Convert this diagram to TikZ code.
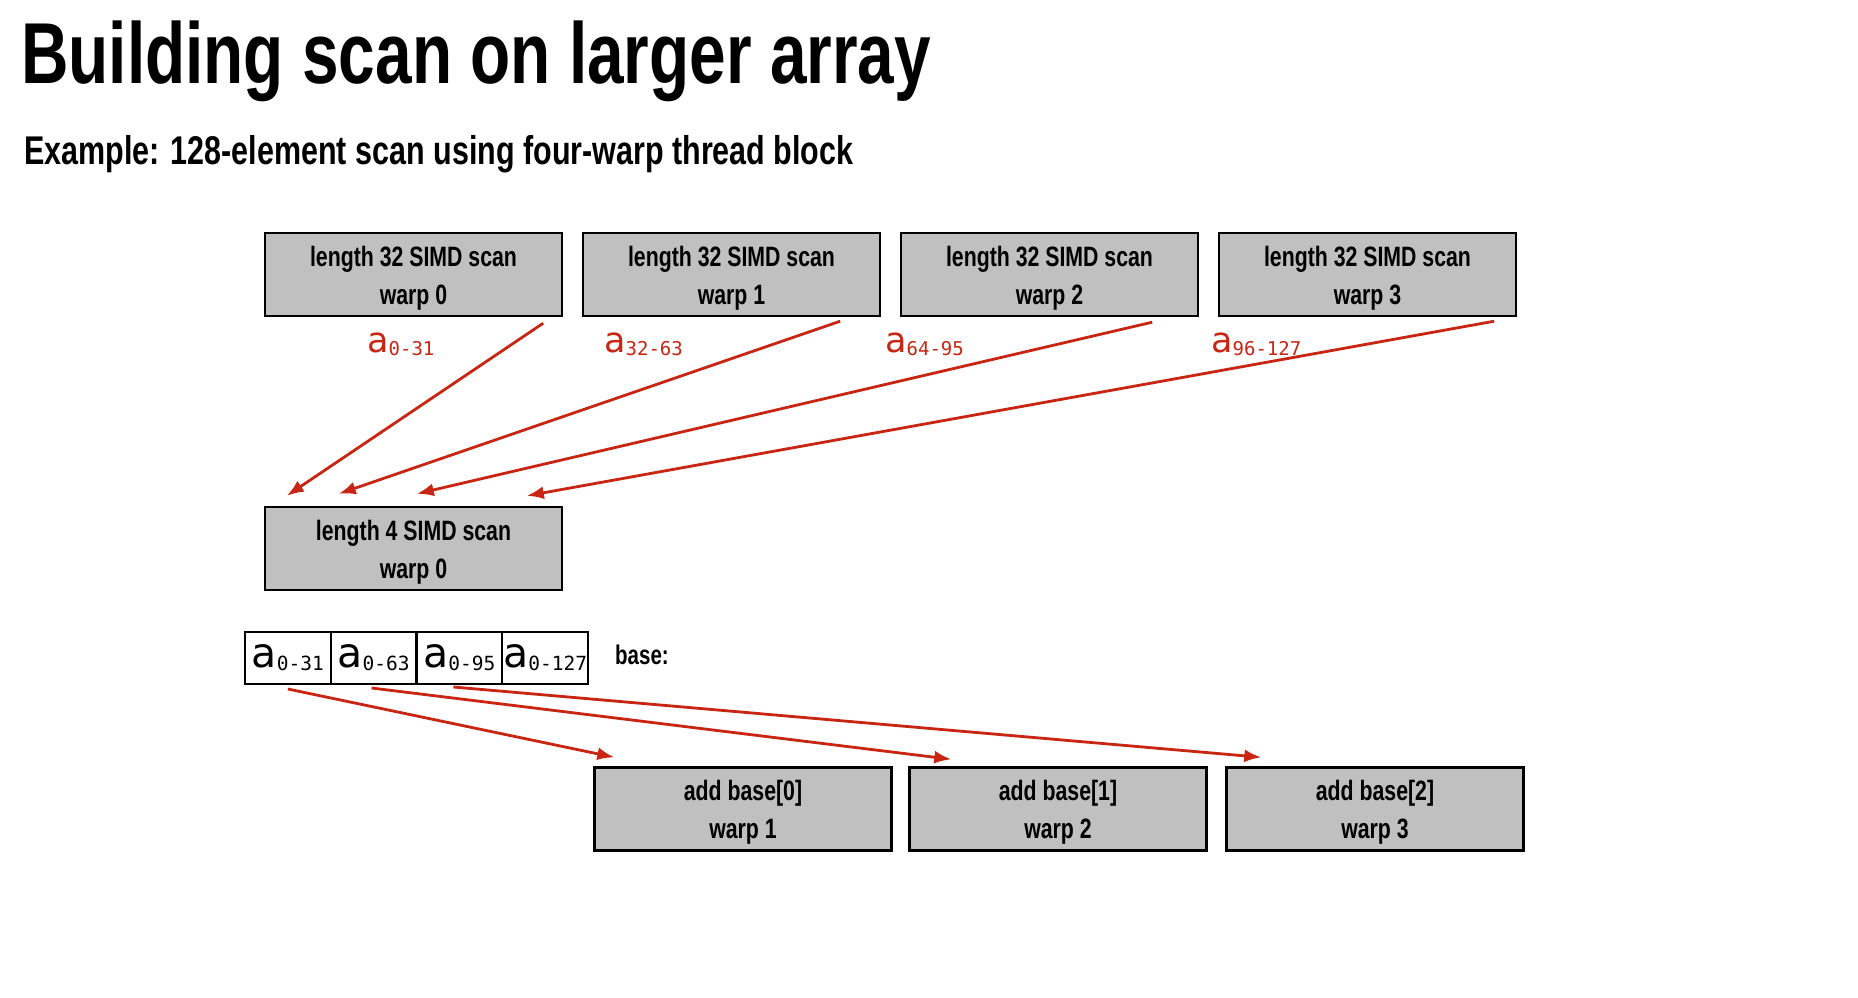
\documentclass[tikz,border=0pt]{standalone}
\usepackage{fontspec}
\usetikzlibrary{arrows.meta}
\newfontfamily\condfont[FakeStretch=0.76]{Liberation Sans}
\newfontfamily\djs{DejaVu Sans}
\newfontfamily\djm{DejaVu Sans Mono}
\definecolor{ared}{RGB}{200,38,18}
\definecolor{boxgray}{RGB}{192,192,192}
\newcommand{\alab}[3]{{\fontsize{#1}{#1}\selectfont\djs a}\raisebox{-3pt}{\fontsize{#2}{#2}\selectfont\djm #3}}
\newcommand{\tp}{\rule{0pt}{27.6pt}}
\tikzset{
  opbox/.style={draw=black, line width=2.4pt, fill=boxgray, minimum width=297pt, minimum height=83pt, inner sep=0pt, align=center, font=\condfont\bfseries\fontsize{28}{38}\selectfont},
  cell/.style={draw=black, line width=2pt, fill=white, minimum width=85.75pt, minimum height=52pt, inner sep=0pt},
  rlab/.style={anchor=base west, inner sep=0pt, text=ared},
  rarrow/.style={draw=ared, line width=2.8pt, -{Latex[length=17pt,width=13pt]}}
}
\begin{document}
\begin{tikzpicture}[x=1pt,y=-1pt]
\useasboundingbox (0,0) rectangle (1858,997);
\fill[white] (0,0) rectangle (1858,997);
% titles
\node[anchor=base west, inner sep=0pt, font=\condfont\bfseries\fontsize{86.5}{90}\selectfont] (title) at (21,83) {Building scan on larger array};
\node[anchor=base west, inner sep=0pt, font=\condfont\bfseries\fontsize{40.1}{44}\selectfont] (sub) at (24,164) {Example: 128-element scan using four-warp thread block};
% top boxes
\node[opbox] (w0) at (413.5,274.5) {\tp length 32 SIMD scan\\warp 0};
\node[opbox] (w1) at (731.5,274.5) {\tp length 32 SIMD scan\\warp 1};
\node[opbox] (w2) at (1049.5,274.5) {\tp length 32 SIMD scan\\warp 2};
\node[opbox] (w3) at (1367.5,274.5) {\tp length 32 SIMD scan\\warp 3};
% labels
\node[rlab] (l0) at (367,352) {\alab{35}{19}{0-31}};
\node[rlab] (l1) at (604,352) {\alab{35}{19}{32-63}};
\node[rlab] (l2) at (885,352) {\alab{35}{19}{64-95}};
\node[rlab] (l3) at (1211,352) {\alab{35}{19}{96-127}};
% length 4 box
\node[opbox] (s4) at (413.5,548.5) {\tp length 4 SIMD scan\\warp 0};
% array
\node[cell] (c0) at (287.9,658) {\alab{41}{19.5}{0-31}};
\node[cell] (c1) at (373.6,658) {\alab{41}{19.5}{0-63}};
\node[cell] (c2) at (459.4,658) {\alab{41}{19.5}{0-95}};
\node[cell] (c3) at (545.1,658) {\alab{41}{19.5}{0-127}};
\node[anchor=base west, inner sep=0pt, font=\condfont\bfseries\fontsize{27}{30}\selectfont] (base) at (615,664) {base:};
% bottom boxes
\node[opbox] (b1) at (743,809) {\tp add base[0]\\warp 1};
\node[opbox] (b2) at (1058,809) {\tp add base[1]\\warp 2};
\node[opbox] (b3) at (1375,809) {\tp add base[2]\\warp 3};
% arrows top -> length 4
\draw[rarrow] ([xshift=-20pt,yshift=-6pt]w0.south east) -- ([xshift=23pt,yshift=10pt]s4.north west);
\draw[rarrow] ([xshift=-41pt,yshift=-4pt]w1.south east) -- ([xshift=75pt,yshift=12pt]s4.north west);
\draw[rarrow] ([xshift=-47pt,yshift=-5pt]w2.south east) -- ([xshift=153pt,yshift=12pt]s4.north west);
\draw[rarrow] ([xshift=-23pt,yshift=-4pt]w3.south east) -- ([xshift=263pt,yshift=10pt]s4.north west);
% arrows base -> add boxes
\draw[rarrow] ([yshift=-4pt]c0.south) -- ([xshift=21pt,yshift=9pt]b1.north west);
\draw[rarrow] ([xshift=-2pt,yshift=-3pt]c1.south) -- ([xshift=43pt,yshift=7pt]b2.north west);
\draw[rarrow] ([xshift=-6pt,yshift=-2pt]c2.south) -- ([xshift=36pt,yshift=9pt]b3.north west);
\end{tikzpicture}
\end{document}
